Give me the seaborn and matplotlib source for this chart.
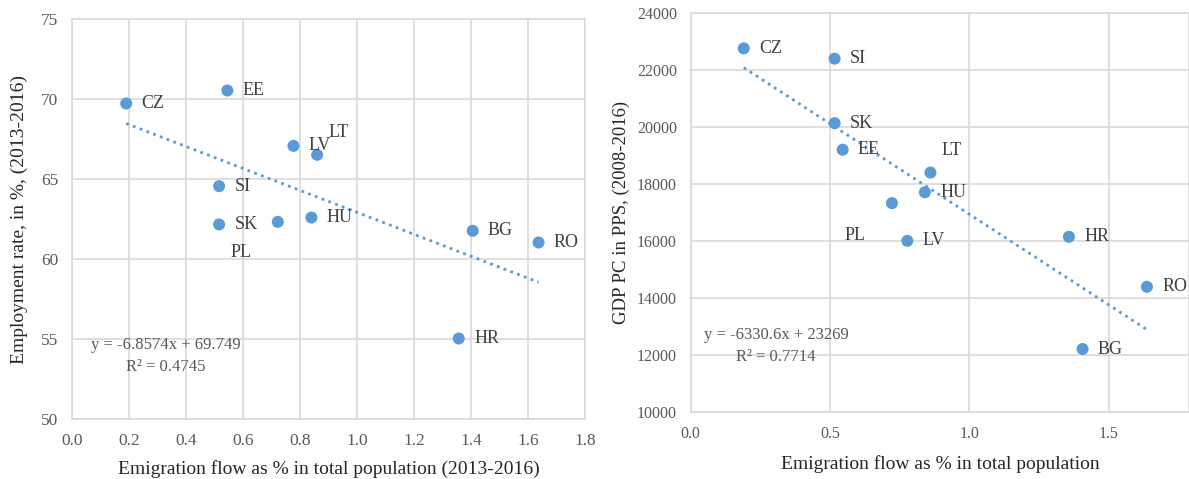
import numpy as np
import pandas as pd
import matplotlib
matplotlib.use("Agg")
import matplotlib.pyplot as plt
import seaborn as sns

# ==========
# Data
# ==========
countries = ["CZ", "EE", "SI", "SK", "PL", "LV", "LT", "HU", "BG", "RO", "HR"]
emigration = [0.19, 0.545, 0.516, 0.516, 0.722, 0.777, 0.86, 0.84, 1.406, 1.637, 1.357]
employment = [69.73, 70.54, 64.56, 62.17, 62.33, 67.08, 66.52, 62.60, 61.77, 61.04, 55.04]
gdp_pc = [22750, 19200, 22390, 20130, 17330, 16010, 18400, 17710, 12220, 14400, 16150]

eq_left = ["y = -6.8574x + 69.749", "R² = 0.4745"]
eq_right = ["y = -6330.6x + 23269", "R² = 0.7714"]

df = pd.DataFrame({"country": countries, "emig": emigration,
                   "emp": employment, "gdp": gdp_pc})

# ==========
# Style
# ==========
DOT = "#5B9BD5"
GRID = "#d9d9d9"
TXT = "#404040"
TICK = "#595959"

sns.set_theme(style="whitegrid")
plt.rcParams["font.family"] = ["Liberation Serif", "DejaVu Serif"]
plt.rcParams["axes.edgecolor"] = GRID
plt.rcParams["grid.color"] = GRID

# label offsets in points (default: right of point)
default_off = (11, 0)
offsets_left = {"PL": (-34, -22), "LT": (8, 16)}
offsets_right = {"PL": (-34, -23), "LT": (8, 16)}

fig = plt.figure(figsize=(11.89, 4.79), dpi=100)
ax1 = fig.add_axes([0.0606, 0.125, 0.4314, 0.835])
ax2 = fig.add_axes([0.581, 0.139, 0.419, 0.8345])


def draw(ax, ycol, offsets, eq, eq_pos):
    sns.regplot(data=df, x="emig", y=ycol, ax=ax, scatter=False, ci=None,
                color=DOT, line_kws=dict(lw=2, linestyle=(0, (1, 1.6))))
    sns.scatterplot(data=df, x="emig", y=ycol, ax=ax, color=DOT, s=75,
                    edgecolor="none", zorder=3)
    for _, r in df.iterrows():
        off = offsets.get(r["country"], default_off)
        ax.annotate(r["country"], (r["emig"], r[ycol]), xytext=off,
                    textcoords="offset points", ha="left", va="center",
                    fontsize=13, color=TXT)
    ax.text(eq_pos[0], eq_pos[1], eq[0], transform=ax.transAxes,
            ha="center", va="center", fontsize=12, color=TICK)
    ax.text(eq_pos[0], eq_pos[1] - 0.055, eq[1], transform=ax.transAxes,
            ha="center", va="center", fontsize=12, color=TICK)
    ax.grid(True, color=GRID, lw=1.2)
    for s in ax.spines.values():
        s.set_color(GRID)
        s.set_linewidth(1.2)
    ax.tick_params(colors=TICK, length=0)


draw(ax1, "emp", offsets_left, eq_left, (0.183, 0.185))
ax1.set_xlim(0, 1.8)
ax1.set_ylim(50, 75)
ax1.set_xticks(np.arange(0, 1.81, 0.2))
ax1.set_xticklabels([f"{v:.1f}" for v in np.arange(0, 1.81, 0.2)])
ax1.set_yticks(range(50, 76, 5))
ax1.tick_params(axis="both", labelsize=12.5, pad=10)
ax1.set_xlabel("Emigration flow as % in total population (2013-2016)",
               fontsize=14, color="#262626", labelpad=8)
ax1.set_ylabel("Employment rate, in %, (2013-2016)", fontsize=14,
               color="#262626", labelpad=9)

draw(ax2, "gdp", offsets_right, eq_right, (0.171, 0.193))
ax2.set_xlim(0, 1.788)
ax2.set_ylim(10000, 24000)
ax2.set_xticks([0, 0.5, 1.0, 1.5])
ax2.set_xticklabels(["0.0", "0.5", "1.0", "1.5"])
ax2.set_yticks(range(10000, 24001, 2000))
ax2.tick_params(axis="both", labelsize=11.5, pad=10)
ax2.set_xlabel("Emigration flow as % in total population", fontsize=14,
               color="#262626", labelpad=9)
ax2.set_ylabel("GDP PC in PPS, (2008-2016)", fontsize=13.5, color="#262626",
               labelpad=5)

fig.savefig("out.png", dpi=100)
